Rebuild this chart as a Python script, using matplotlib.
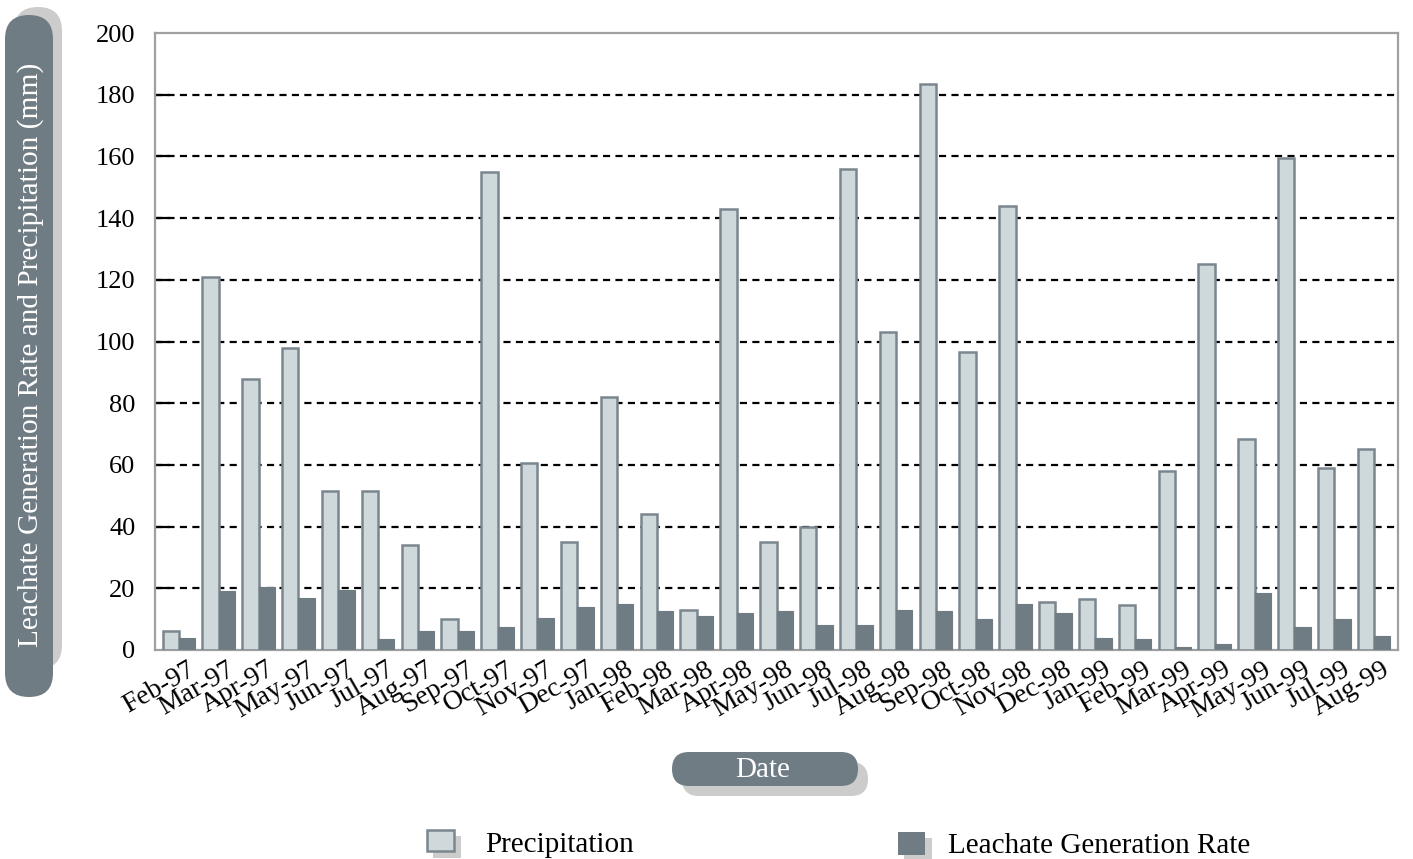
#!/usr/bin/env python3
"""
plot.py
- Monthly precipitation vs leachate generation rate, Feb-97 .. Aug-99
- Saves out.png (1413x859)
"""
import matplotlib
matplotlib.use("Agg")
import matplotlib.pyplot as plt
import matplotlib.transforms as mtransforms
from matplotlib.patches import FancyBboxPatch, Rectangle
import numpy as np

# -------------------------
# Data
# -------------------------
months = [
    "Feb-97", "Mar-97", "Apr-97", "May-97", "Jun-97", "Jul-97", "Aug-97", "Sep-97",
    "Oct-97", "Nov-97", "Dec-97", "Jan-98", "Feb-98", "Mar-98", "Apr-98", "May-98",
    "Jun-98", "Jul-98", "Aug-98", "Sep-98", "Oct-98", "Nov-98", "Dec-98", "Jan-99",
    "Feb-99", "Mar-99", "Apr-99", "May-99", "Jun-99", "Jul-99", "Aug-99",
]
precipitation = [
    6, 121, 88, 98, 51.5, 51.5, 34, 10,
    155, 60.5, 35, 82, 44, 13, 143, 35,
    40, 156, 103, 183.5, 96.5, 144, 15.5, 16.5,
    14.5, 58, 125, 68.5, 159.5, 59, 65,
]
leachate = [
    4, 19, 20.5, 17, 19.5, 3.5, 6, 6,
    7.5, 10.5, 14, 15, 12.5, 11, 12, 12.5,
    8, 8, 13, 12.5, 10, 15, 12, 4,
    3.5, 1, 2, 18.5, 7.5, 10, 4.5,
]
y_ticks = [0, 20, 40, 60, 80, 100, 120, 140, 160, 180, 200]

# colours
LIGHT = "#cfd8db"
EDGE = "#7a868e"
DARK = "#6f7c84"
SHADOW = "#cccccc"

plt.rcParams["font.family"] = ["Liberation Serif", "DejaVu Serif"]

W, H = 1413, 859
fig = plt.figure(figsize=(W / 100, H / 100), dpi=100)

# background overlay in pixel coordinates (for the decorative boxes)
bg = fig.add_axes([0, 0, 1, 1], zorder=0)
bg.set_xlim(0, W)
bg.set_ylim(H, 0)
bg.axis("off")
bg.patch.set_alpha(0)

# main axes: left 155, right 1398, top 33, bottom 650 (pixels)
left, right, top, bottom = 155, 1398, 33, 650
ax = fig.add_axes([left / W, (H - bottom) / H, (right - left) / W, (bottom - top) / H], zorder=1)

x = np.arange(len(months))
w = 0.41
ax.bar(x - w / 2, precipitation, w, color=LIGHT, edgecolor=EDGE, linewidth=1.8, zorder=3)
ax.bar(x + w / 2, leachate, w, color=DARK, edgecolor=DARK, linewidth=0.8, zorder=3)

ax.set_xlim(-0.6, len(months) - 0.4)
ax.set_ylim(0, 200)

# dashed grid lines (not at 0 / 200)
ax.hlines(y_ticks[1:-1], -0.6, len(months) - 0.4, colors="black",
          linestyles=(0, (3.2, 2.4)), linewidth=1.6, zorder=1)

ax.set_yticks(y_ticks)
ax.set_yticklabels([str(v) for v in y_ticks], fontsize=19)
ax.tick_params(axis="y", direction="in", length=10.8, width=1.6, color="black", pad=14)
ticks = ax.yaxis.get_major_ticks()
ticks[0].tick1line.set_visible(False)
ticks[-1].tick1line.set_visible(False)

ax.set_xticks(x)
ax.set_xticklabels(months, fontsize=20, rotation=30, ha="right", rotation_mode="anchor", va="top")
ax.tick_params(axis="x", length=0, pad=5)
offset = mtransforms.ScaledTranslation(8 / 100, 0, fig.dpi_scale_trans)
for lab in ax.get_xticklabels():
    lab.set_transform(lab.get_transform() + offset)

for s in ax.spines.values():
    s.set_color("#a0a0a0")
    s.set_linewidth(1.6)

# -------------------------
# Decorations: y label pill, Date pill, legend
# -------------------------
bg.add_patch(FancyBboxPatch((14, 7), 48, 662, boxstyle="round,pad=0,rounding_size=24",
                            facecolor=SHADOW, edgecolor="none"))
bg.add_patch(FancyBboxPatch((5, 15), 48, 682, boxstyle="round,pad=0,rounding_size=24",
                            facecolor=DARK, edgecolor="none"))
bg.text(31, 355, "Leachate Generation Rate and Precipitation (mm)", color="white",
        fontsize=21.2, rotation=90, ha="center", va="center")

bg.add_patch(FancyBboxPatch((682, 762), 186, 34, boxstyle="round,pad=0,rounding_size=17",
                            facecolor=SHADOW, edgecolor="none"))
bg.add_patch(FancyBboxPatch((672, 752), 186, 34, boxstyle="round,pad=0,rounding_size=17",
                            facecolor=DARK, edgecolor="none"))
bg.text(763, 770, "Date", color="white", fontsize=21, ha="center", va="center")

# legend entries
bg.add_patch(Rectangle((433, 836), 28, 22, facecolor=SHADOW, edgecolor="none"))
bg.add_patch(Rectangle((427, 830), 27, 21, facecolor=LIGHT, edgecolor=EDGE, linewidth=1.8))
bg.text(485, 845, "Precipitation", fontsize=21, ha="left", va="center")

bg.add_patch(Rectangle((904, 838), 28, 22, facecolor=SHADOW, edgecolor="none"))
bg.add_patch(Rectangle((898, 832), 27, 23, facecolor=DARK, edgecolor="none"))
bg.text(948, 846, "Leachate Generation Rate", fontsize=21, ha="left", va="center")

fig.savefig("out.png", dpi=100)
print("Saved: out.png")
